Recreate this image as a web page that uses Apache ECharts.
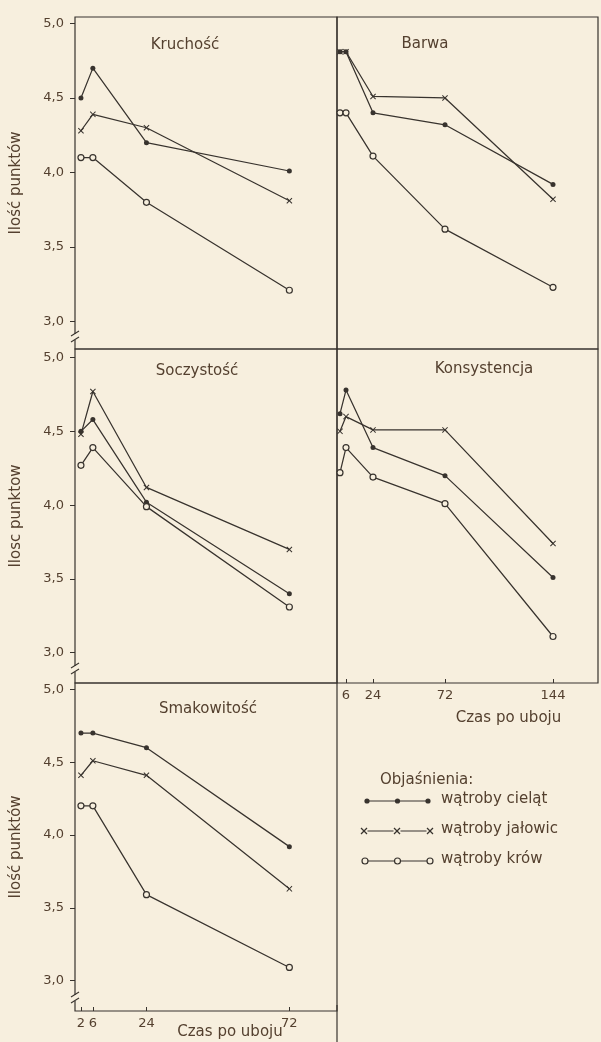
<!DOCTYPE html>
<html>
<head>
<meta charset="utf-8">
<script src="https://cdn.jsdelivr.net/npm/echarts@6/dist/echarts.min.js"></script>
<style>
  html, body { margin: 0; padding: 0; background: #f7efde; }
  #chart { width: 601px; height: 1042px; }
</style>
</head>
<body>
<div id="chart"></div>
<script>
// ---- data ----
const timesShort = [2, 6, 24, 72];          // hours after slaughter, 3 left panels
const timesLong = [2, 6, 24, 72, 144];      // hours after slaughter, 2 right panels
const yTickValues = [3.0, 3.5, 4.0, 4.5, 5.0];
const xTicksLeft = [2, 6, 24, 72];
const xTicksRight = [6, 24, 72, 144];

const seriesNames = ['wątroby cieląt', 'wątroby jałowic', 'wątroby krów'];
const panelTitles = ['Kruchość', 'Barwa', 'Soczystość', 'Konsystencja', 'Smakowitość'];
const yAxisNames = ['Ilość punktów', 'Ilosc punktow', 'Ilość punktów'];
const xAxisName = 'Czas po uboju';
const legendTitle = 'Objaśnienia:';

// Kruchość
const kruchoscCielat  = [4.50, 4.70, 4.20, 4.01];
const kruchoscJalowic = [4.28, 4.39, 4.30, 3.81];
const kruchoscKrow    = [4.10, 4.10, 3.80, 3.21];
// Barwa
const barwaCielat  = [4.81, 4.81, 4.40, 4.32, 3.92];
const barwaJalowic = [4.81, 4.81, 4.51, 4.50, 3.82];
const barwaKrow    = [4.40, 4.40, 4.11, 3.62, 3.23];
// Soczystość
const soczystoscCielat  = [4.50, 4.58, 4.02, 3.40];
const soczystoscJalowic = [4.48, 4.77, 4.12, 3.70];
const soczystoscKrow    = [4.27, 4.39, 3.99, 3.31];
// Konsystencja
const konsystencjaCielat  = [4.62, 4.78, 4.39, 4.20, 3.51];
const konsystencjaJalowic = [4.50, 4.60, 4.51, 4.51, 3.74];
const konsystencjaKrow    = [4.22, 4.39, 4.19, 4.01, 3.11];
// Smakowitość
const smakowitoscCielat  = [4.70, 4.70, 4.60, 3.92];
const smakowitoscJalowic = [4.41, 4.51, 4.41, 3.63];
const smakowitoscKrow    = [4.20, 4.20, 3.59, 3.09];

// ---- styling / layout ----
const BG = '#f7efde';
const INK = '#38332e';
const TXT = '#54402f';
const FONT = 'DejaVu Sans';
const CROSS = 'path://M0,1.2L1.2,0L5,3.8L8.8,0L10,1.2L6.2,5L10,8.8L8.8,10L5,6.2L1.2,10L0,8.8L3.8,5Z';

const panels = [
  { grid: { left: 75,  top: 17,  width: 262, height: 332 }, xMax: 88,  yMin: 2.816, yMax: 5.043, times: timesShort, data: [kruchoscCielat, kruchoscJalowic, kruchoscKrow], leftAxis: 0 },
  { grid: { left: 337, top: 17,  width: 261, height: 332 }, xMax: 174, yMin: 2.816, yMax: 5.043, times: timesLong,  data: [barwaCielat, barwaJalowic, barwaKrow] },
  { grid: { left: 75,  top: 349, width: 262, height: 334 }, xMax: 88,  yMin: 2.795, yMax: 5.058, times: timesShort, data: [soczystoscCielat, soczystoscJalowic, soczystoscKrow], leftAxis: 1 },
  { grid: { left: 337, top: 349, width: 261, height: 334 }, xMax: 174, yMin: 2.795, yMax: 5.058, times: timesLong,  data: [konsystencjaCielat, konsystencjaJalowic, konsystencjaKrow], xLabels: xTicksRight, nameShift: 82, nameGap: 28, labelMargin: 6 },
  { grid: { left: 75,  top: 683, width: 262, height: 328 }, xMax: 88,  yMin: 2.791, yMax: 5.044, times: timesShort, data: [smakowitoscCielat, smakowitoscJalowic, smakowitoscKrow], leftAxis: 2, xLabels: xTicksLeft, nameShift: 48, nameGap: 14, labelMargin: 6 }
];

const symbolStyles = [
  { symbol: 'circle', symbolSize: 5, itemStyle: { color: INK } },
  { symbol: CROSS, symbolSize: 6, itemStyle: { color: INK } },
  { symbol: 'circle', symbolSize: 6, itemStyle: { color: BG, borderColor: INK, borderWidth: 1.2 } }
];

const grids = [], xAxes = [], yAxes = [], series = [], titles = [];
const fmt = v => v.toFixed(1).replace('.', ',');

panels.forEach((p, i) => {
  grids.push(Object.assign({ show: true, borderColor: INK, borderWidth: 1.2, backgroundColor: 'transparent', containLabel: false, outerBoundsMode: 'none' }, p.grid));
  xAxes.push({
    type: 'value', gridIndex: i, min: 0, max: p.xMax,
    splitLine: { show: false },
    axisLine: { show: false },
    axisTick: p.xLabels ? { show: true, inside: true, length: 4, customValues: p.xLabels, lineStyle: { color: INK } } : { show: false },
    axisLabel: p.xLabels ? { show: true, customValues: p.xLabels, color: TXT, fontFamily: FONT, fontSize: 13, margin: p.labelMargin } : { show: false },
    name: p.xLabels ? xAxisName : '',
    nameLocation: 'middle', nameGap: p.nameGap || 0, nameMoveOverlap: false,
    nameTextStyle: { color: TXT, fontFamily: FONT, fontSize: 15, padding: [0, 0, 0, p.nameShift || 0] }
  });
  const hasLeft = p.leftAxis !== undefined;
  yAxes.push({
    type: 'value', gridIndex: i, min: p.yMin, max: p.yMax,
    show: hasLeft,
    splitLine: { show: false },
    axisLine: { show: false },
    axisTick: { show: true, length: 5, customValues: yTickValues, lineStyle: { color: INK } },
    axisLabel: { show: true, customValues: yTickValues, formatter: fmt, color: TXT, fontFamily: FONT, fontSize: 13, margin: 11 },
    name: hasLeft ? yAxisNames[p.leftAxis] : '',
    nameLocation: 'middle', nameGap: 51, nameRotate: 90, nameMoveOverlap: false,
    nameTextStyle: { color: TXT, fontFamily: FONT, fontSize: 15 }
  });
  p.data.forEach((vals, k) => {
    series.push(Object.assign({
      type: 'line', name: seriesNames[k], xAxisIndex: i, yAxisIndex: i,
      data: p.times.map((t, j) => [t, vals[j]]),
      lineStyle: { color: INK, width: 1.25 },
      showAllSymbol: true, animation: false, silent: true, z: 3 + k
    }, symbolStyles[k]));
  });
});

const titlePos = [[180, 33], [420, 32], [192, 359], [479, 357], [203, 697]];
panelTitles.forEach((t, i) => {
  titles.push({ text: t, left: titlePos[i][0], top: titlePos[i][1], textAlign: 'center',
    textStyle: { color: TXT, fontFamily: FONT, fontSize: 15, fontWeight: 'normal' } });
});

// decorations: axis breaks, divider extension, legend
const graphic = [];
[[75, 337], [75, 669], [75, 998]].forEach(([x, y]) => {
  graphic.push({ type: 'rect', shape: { x: x - 2, y: y - 3, width: 4, height: 6 }, style: { fill: BG }, z: 50 });
  graphic.push({ type: 'line', shape: { x1: x - 4, y1: y - 1, x2: x + 4, y2: y - 6 }, style: { stroke: INK, lineWidth: 1.1 }, z: 51 });
  graphic.push({ type: 'line', shape: { x1: x - 4, y1: y + 5, x2: x + 4, y2: y }, style: { stroke: INK, lineWidth: 1.1 }, z: 51 });
});
graphic.push({ type: 'line', shape: { x1: 337, y1: 1005, x2: 337, y2: 1042 }, style: { stroke: INK, lineWidth: 1.2 } });

graphic.push({ type: 'text', x: 380, y: 780, style: { text: legendTitle, fill: TXT, font: '15px "DejaVu Sans"', textVerticalAlign: 'middle' } });
const legendRows = [
  { y: 801, x1: 367, x2: 428 },
  { y: 831, x1: 364, x2: 430 },
  { y: 861, x1: 365, x2: 430 }
];
legendRows.forEach((r, k) => {
  graphic.push({ type: 'line', shape: { x1: r.x1, y1: r.y, x2: r.x2, y2: r.y }, style: { stroke: INK, lineWidth: 1.2 } });
  const xm = (r.x1 + r.x2) / 2;
  [r.x1, xm, r.x2].forEach(cx => {
    if (k === 0) {
      graphic.push({ type: 'circle', shape: { cx, cy: r.y, r: 2.6 }, style: { fill: INK } });
    } else if (k === 1) {
      graphic.push({ type: 'rect', shape: { x: cx - 3.5, y: r.y - 3.5, width: 7, height: 7 }, style: { fill: BG } });
      graphic.push({ type: 'line', shape: { x1: cx - 3, y1: r.y - 3, x2: cx + 3, y2: r.y + 3 }, style: { stroke: INK, lineWidth: 1.2 } });
      graphic.push({ type: 'line', shape: { x1: cx - 3, y1: r.y + 3, x2: cx + 3, y2: r.y - 3 }, style: { stroke: INK, lineWidth: 1.2 } });
    } else {
      graphic.push({ type: 'circle', shape: { cx, cy: r.y, r: 3 }, style: { fill: BG, stroke: INK, lineWidth: 1.2 } });
    }
  });
  graphic.push({ type: 'text', x: 441, y: r.y - 2, style: { text: seriesNames[k], fill: TXT, font: '15px "DejaVu Sans"', textVerticalAlign: 'middle' } });
});

const chart = echarts.init(document.getElementById('chart'), null, { renderer: 'canvas' });
chart.setOption({
  backgroundColor: BG,
  animation: false,
  title: titles,
  grid: grids,
  xAxis: xAxes,
  yAxis: yAxes,
  series: series,
  graphic: graphic
});
</script>
</body>
</html>
